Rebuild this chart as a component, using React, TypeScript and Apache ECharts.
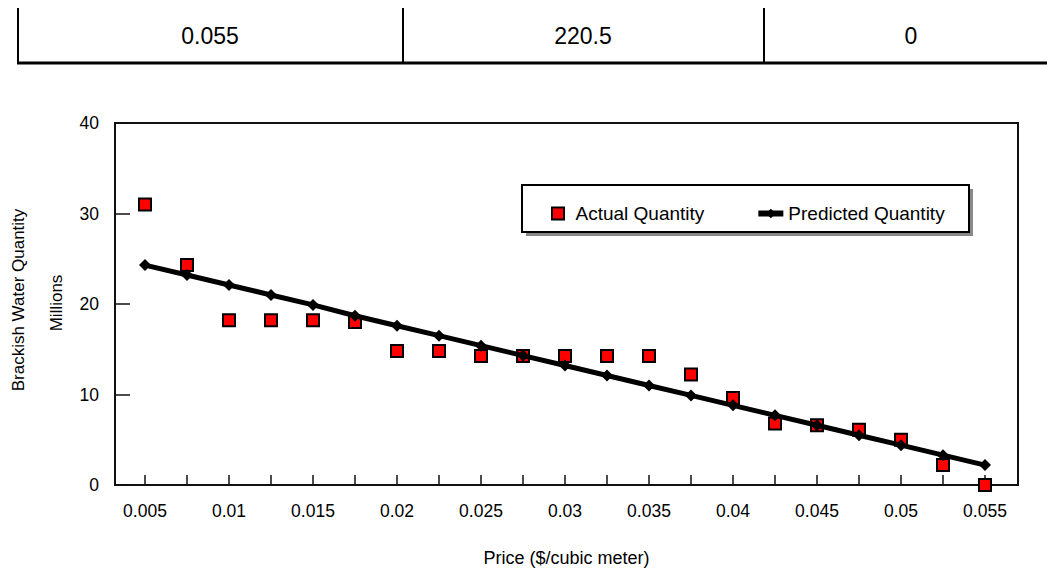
import React, { useEffect, useRef } from "react";
import * as echarts from "echarts";

const prices = [
  0.005, 0.0075, 0.01, 0.0125, 0.015, 0.0175, 0.02, 0.0225, 0.025, 0.0275, 0.03,
  0.0325, 0.035, 0.0375, 0.04, 0.0425, 0.045, 0.0475, 0.05, 0.0525, 0.055,
];
const actualQuantity = [
  31.0, 24.3, 18.2, 18.2, 18.2, 18.0, 14.8, 14.8, 14.25, 14.25, 14.25, 14.25, 14.25,
  12.2, 9.6, 6.8, 6.6, 6.1, 5.0, 2.2, 0,
];
const predictedQuantity = [
  24.3, 23.2, 22.1, 21.0, 19.9, 18.7, 17.6, 16.5, 15.4, 14.3, 13.2, 12.1, 11.0, 9.9,
  8.8, 7.7, 6.6, 5.5, 4.4, 3.3, 2.2,
];
const xLabelValues = [0.005, 0.01, 0.015, 0.02, 0.025, 0.03, 0.035, 0.04, 0.045, 0.05, 0.055];
const tableRow = ["0.055", "220.5", "0"];

const FONT = "'Liberation Sans', Arial, sans-serif";

export default function App() {
  const ref = useRef<HTMLDivElement>(null);
  useEffect(() => {
    if (!ref.current) return;
    const chart = echarts.init(ref.current, undefined, { renderer: "svg" });
    const fmt = (v: number) => String(parseFloat(v.toFixed(4)));
    const tableText = (text: string, x: number) => ({
      type: "text",
      x,
      y: 36,
      style: { text, fontSize: 23, fill: "#000", align: "center", verticalAlign: "middle", fontFamily: FONT },
    });
    chart.setOption({
      animation: false,
      textStyle: { fontFamily: FONT },
      grid: {
        left: 115,
        top: 123,
        width: 903,
        height: 362,
        show: true,
        borderColor: "#111",
        borderWidth: 2,
        backgroundColor: "transparent",
      },
      xAxis: {
        type: "value",
        min: 0.003214,
        max: 0.056964,
        name: "Price ($/cubic meter)",
        nameLocation: "middle",
        nameGap: 64,
        nameTextStyle: { fontSize: 18, color: "#000", fontFamily: FONT },
        axisLine: { show: true, onZero: false, lineStyle: { color: "#111", width: 2 } },
        axisTick: {
          show: true,
          inside: true,
          length: 10,
          customValues: prices,
          lineStyle: { color: "#111", width: 1.5 },
        },
        axisLabel: {
          customValues: xLabelValues,
          formatter: (v: number) => fmt(v),
          fontSize: 17.5,
          color: "#000",
          margin: 17,
          fontFamily: FONT,
        },
        splitLine: { show: false },
      },
      yAxis: {
        type: "value",
        min: 0,
        max: 40,
        interval: 10,
        axisLine: { show: true, lineStyle: { color: "#111", width: 2 } },
        axisTick: { show: true, inside: true, length: 15, lineStyle: { color: "#111", width: 1.5 } },
        axisLabel: { fontSize: 17.5, color: "#000", margin: 16, fontFamily: FONT },
        splitLine: { show: false },
      },
      legend: {
        left: 546,
        top: 199,
        itemWidth: 25,
        itemHeight: 12,
        itemGap: 51,
        lineStyle: { width: 6, color: "#000" },
        textStyle: { fontSize: 19, color: "#000", fontFamily: FONT },
        data: [
          { name: "Actual Quantity", icon: "path://M0,0L10,0L10,10L0,10Z" },
          { name: "Predicted Quantity" },
        ],
      },
      graphic: [
        // legend box shadow & frame
        { type: "rect", shape: { x: 526, y: 189, width: 447, height: 47 }, style: { fill: "#888" }, z: -1 },
        {
          type: "rect",
          shape: { x: 522, y: 185, width: 447, height: 47 },
          style: { fill: "#fff", stroke: "#000", lineWidth: 2 },
          z: 0,
        },
        // top table fragment
        { type: "line", shape: { x1: 18, y1: 8, x2: 18, y2: 62 }, style: { stroke: "#000", lineWidth: 2 } },
        { type: "line", shape: { x1: 403, y1: 8, x2: 403, y2: 62 }, style: { stroke: "#000", lineWidth: 2 } },
        { type: "line", shape: { x1: 764, y1: 8, x2: 764, y2: 62 }, style: { stroke: "#000", lineWidth: 2 } },
        { type: "line", shape: { x1: 17, y1: 63, x2: 1047, y2: 63 }, style: { stroke: "#000", lineWidth: 3 } },
        tableText(tableRow[0], 210),
        tableText(tableRow[1], 583),
        tableText(tableRow[2], 911),
        // y axis titles
        {
          type: "text",
          x: 18,
          y: 300,
          rotation: Math.PI / 2,
          style: { text: "Brackish Water Quantity", fontSize: 17, fill: "#000", align: "center", verticalAlign: "middle", fontFamily: FONT },
        },
        {
          type: "text",
          x: 56,
          y: 303,
          rotation: Math.PI / 2,
          style: { text: "Millions", fontSize: 17, fill: "#000", align: "center", verticalAlign: "middle", fontFamily: FONT },
        },
      ],
      series: [
        {
          name: "Actual Quantity",
          type: "scatter",
          symbol: "rect",
          symbolSize: 12,
          itemStyle: { color: "#ff0000", borderColor: "#000", borderWidth: 2, opacity: 1 },
          data: prices.map((p, i) => [p, actualQuantity[i]]),
          z: 3,
        },
        {
          name: "Predicted Quantity",
          type: "line",
          symbol: "diamond",
          symbolSize: 12,
          showSymbol: true,
          lineStyle: { color: "#000", width: 5 },
          itemStyle: { color: "#000" },
          data: prices.map((p, i) => [p, predictedQuantity[i]]),
          z: 4,
        },
      ],
    });
    return () => chart.dispose();
  }, []);
  return (
    <div
      ref={ref}
      style={{ position: "absolute", left: 0, top: 0, width: 1047, height: 574, background: "#fff" }}
    />
  );
}
